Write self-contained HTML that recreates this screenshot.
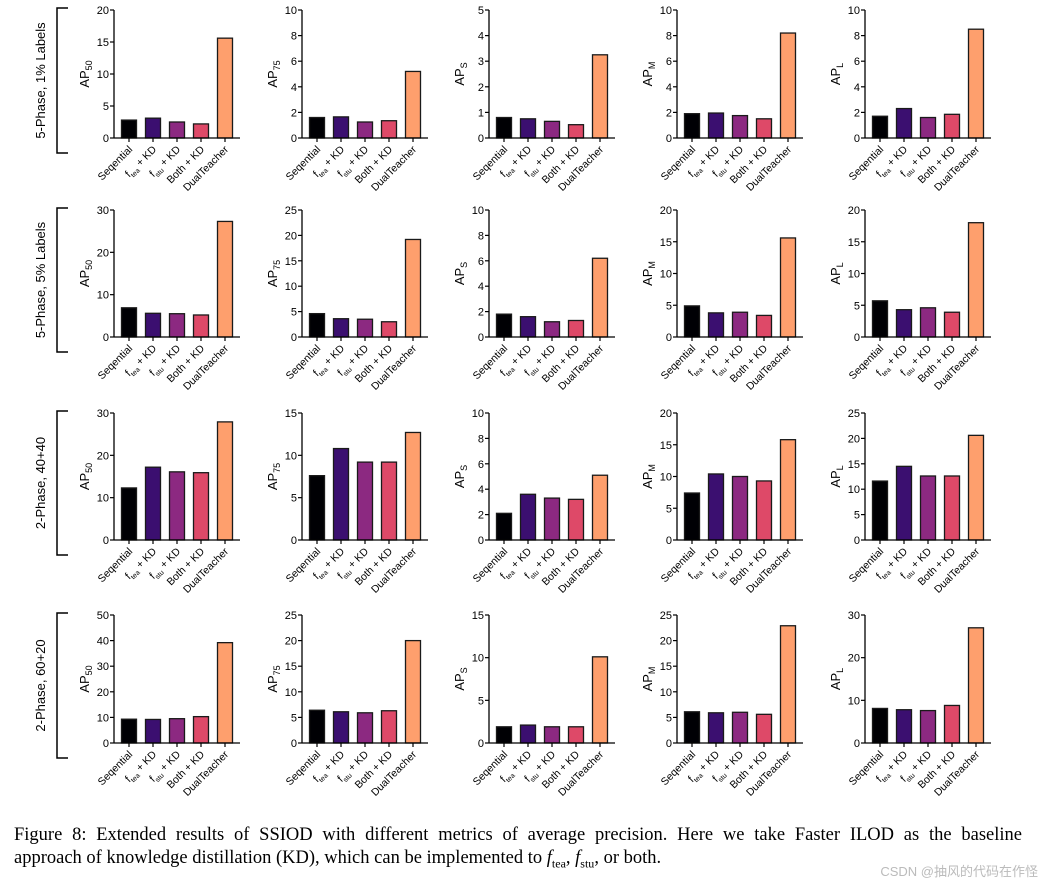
<!DOCTYPE html>
<html><head><meta charset="utf-8">
<style>
body{margin:0;background:#fff;width:1044px;height:886px;overflow:hidden;font-family:"Liberation Sans",sans-serif}
svg{position:absolute;left:0;top:0}
.cap{position:absolute;left:14px;top:824px;font-family:"Liberation Serif",serif;font-size:18.5px;line-height:23px;color:#000;width:1008px}
.l1{text-align:justify;text-align-last:justify;white-space:nowrap}
.wm{position:absolute;right:6px;bottom:6px;font-family:"Liberation Sans","Noto Sans CJK SC",sans-serif;font-size:13px;color:#bbb}
</style></head><body>
<svg id="fig" width="1044" height="886" xmlns="http://www.w3.org/2000/svg"></svg>
<div class="cap"><div class="l1" style="white-space:normal">Figure 8: Extended results of SSIOD with different metrics of average precision. Here we take Faster ILOD as the baseline</div><div>approach of knowledge distillation (KD), which can be implemented to <i>f</i><sub style="font-size:12px">tea</sub>, <i>f</i><sub style="font-size:12px">stu</sub>, or both.</div></div>
<div class="wm">CSDN @抽风的代码在作怪</div>
<script>
const categories = ["Seqential","f_tea + KD","f_stu + KD","Both + KD","DualTeacher"];
const rowLabels = ["5-Phase, 1% Labels","5-Phase, 5% Labels","2-Phase, 40+40","2-Phase, 60+20"];
const metrics = ["50","75","S","M","L"];
const row1Values = [[2.8,3.1,2.5,2.2,15.6],[1.6,1.65,1.25,1.35,5.2],[0.8,0.75,0.65,0.52,3.25],[1.9,1.95,1.75,1.5,8.2],[1.7,2.3,1.6,1.85,8.5]];
const row2Values = [[6.9,5.6,5.5,5.2,27.3],[4.6,3.6,3.5,3.0,19.2],[1.8,1.6,1.2,1.3,6.2],[4.9,3.8,3.9,3.4,15.6],[5.7,4.3,4.6,3.9,18]];
const row3Values = [[12.3,17.2,16.1,15.9,27.9],[7.6,10.8,9.2,9.2,12.7],[2.1,3.6,3.3,3.2,5.1],[7.4,10.4,10.0,9.3,15.8],[11.6,14.5,12.6,12.6,20.6]];
const row4Values = [[9.3,9.2,9.5,10.3,39.2],[6.4,6.1,5.9,6.3,20],[1.9,2.1,1.9,1.9,10.1],[6.1,5.9,6.0,5.6,22.9],[8.1,7.8,7.6,8.8,27]];
const row1Max = [20,10,5,10,10], row1Step = [5,2,1,2,2];
const row2Max = [30,25,10,20,20], row2Step = [10,5,2,5,5];
const row3Max = [30,15,10,20,25], row3Step = [10,5,2,5,5];
const row4Max = [50,25,15,25,30], row4Step = [10,5,5,5,10];
const colors = ["#000004","#3b0f70","#8c2981","#de4968","#fe9f6d"];

const allValues=[row1Values,row2Values,row3Values,row4Values];
const allMax=[row1Max,row2Max,row3Max,row4Max];
const allStep=[row1Step,row2Step,row3Step,row4Step];
const svg=document.getElementById('fig');
const NS='http://www.w3.org/2000/svg';
function mk(tag,attrs,parent){const e=document.createElementNS(NS,tag);for(const k in attrs)e.setAttribute(k,attrs[k]);(parent||svg).appendChild(e);return e;}
const rowZero=[138,337,540,743], rowTop=[10,210,413,615];
const colX=[114,302,489,677,865];
for(let r=0;r<4;r++){
  const br=mk('path',{d:`M68 ${rowTop[r]-2} H57 V${rowZero[r]+15} H68`,fill:'none',stroke:'#000','stroke-width':1.5});
  
  
  const cy=(rowTop[r]+rowZero[r]+13)/2;
  const rl=mk('text',{x:0,y:0,transform:`translate(45 ${cy}) rotate(-90)`,'text-anchor':'middle','font-size':13});
  rl.textContent=rowLabels[r];
  
  
  for(let c=0;c<5;c++){
    const g=mk('g',{});
    
    
    const x0=colX[c], y0=rowZero[r], H=rowZero[r]-rowTop[r], mx=allMax[r][c], st=allStep[r][c];
    const ys=v=>y0-v/mx*H;
    const xs=i=>x0+15+i*24;
    const vals=allValues[r][c];
    for(let i=0;i<5;i++){
      const b=mk('rect',{x:xs(i)-7.5,y:ys(vals[i]),width:15,height:y0-ys(vals[i]),fill:colors[i],stroke:'#1a1a1a','stroke-width':1.3},g);
      
      
    }
    mk('line',{x1:x0,y1:rowTop[r],x2:x0,y2:y0,stroke:'#000','stroke-width':1.3},g);
    mk('line',{x1:x0,y1:y0,x2:x0+126,y2:y0,stroke:'#000','stroke-width':1.3},g);
    for(let v=0;v<=mx+1e-9;v+=st){
      mk('line',{x1:x0-4,y1:ys(v),x2:x0,y2:ys(v),stroke:'#000','stroke-width':1.2},g);
      const t=mk('text',{x:x0-5,y:ys(v)+4,'text-anchor':'end','font-size':11},g);t.textContent=v;
      
      
    }
    for(let i=0;i<5;i++){
      mk('line',{x1:xs(i),y1:y0,x2:xs(i),y2:y0+4,stroke:'#000','stroke-width':1.2},g);
      const t=mk('text',{x:0,y:0,transform:`translate(${xs(i)+4} ${y0+12}) rotate(-45)`,'text-anchor':'end','font-size':10.5},g);
      const lab=categories[i];
      if(lab.startsWith('f_')){
        t.appendChild(document.createTextNode('f'));
        const s=mk('tspan',{'font-size':7,dy:3},t);s.textContent=lab.slice(2,5);
        const s2=mk('tspan',{dy:-3},t);s2.textContent=lab.slice(5);
      } else t.textContent=lab;
      
      
    }
    const yt=mk('text',{x:0,y:0,transform:`translate(${x0-25} ${(rowTop[r]+y0)/2}) rotate(-90)`,'text-anchor':'middle','font-size':13},g);
    yt.appendChild(document.createTextNode('AP'));
    const sb=mk('tspan',{'font-size':9,dy:3},yt);sb.textContent=metrics[c];
    
    
  }
}
</script>
</body></html>
